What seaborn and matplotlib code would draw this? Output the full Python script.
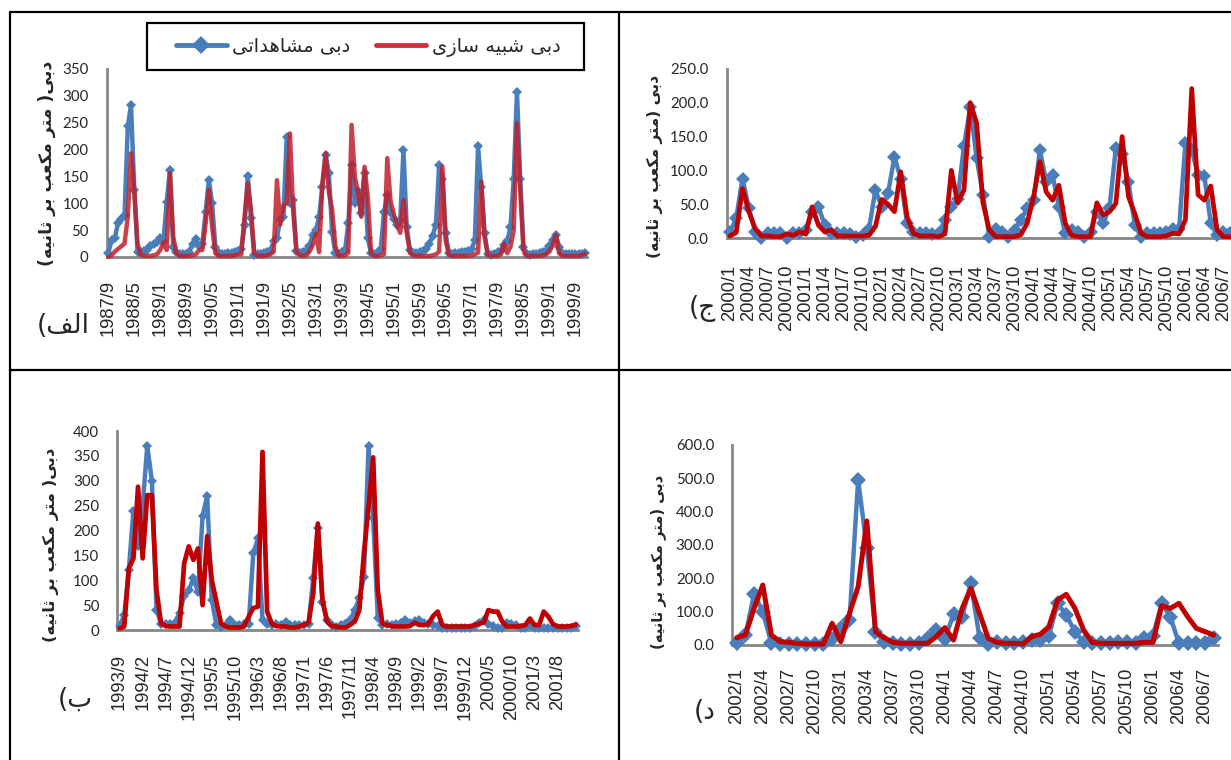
import numpy as np
import pandas as pd
import matplotlib
matplotlib.use("Agg")
import matplotlib.pyplot as plt
from matplotlib.lines import Line2D
from matplotlib.patches import Rectangle
from matplotlib.ticker import FixedLocator, FormatStrFormatter
import seaborn as sns

# ---- data ----
# panel الف : 1987/9 .. 1999/12
alef_start = "1987-09"
alef_obs = [7, 32, 35, 63, 70, 78, 243, 283, 125, 10, 10, 12, 13, 20, 25, 28, 35, 30, 103, 162,
            19, 10, 5, 5, 6, 10, 25, 33, 20, 25, 84, 143, 100, 19, 8, 6, 6, 8, 8, 10,
            12, 15, 60, 151, 72, 3, 5, 6, 8, 10, 12, 30, 36, 69, 75, 224, 100, 106, 12, 8,
            10, 12, 20, 41, 50, 75, 131, 190, 156, 47, 7, 5, 10, 13, 63, 171, 100, 122, 81, 156,
            35, 7, 5, 10, 15, 84, 115, 84, 70, 60, 69, 199, 56, 13, 8, 8, 10, 12, 15, 25,
            40, 60, 171, 145, 44, 7, 5, 8, 8, 10, 10, 12, 15, 31, 206, 130, 44, 5, 3, 6,
            10, 12, 22, 30, 56, 146, 308, 146, 19, 5, 3, 5, 6, 8, 10, 12, 20, 31, 41, 19,
            8, 6, 5, 5, 5, 6, 5, 7]
alef_sim = [0, 3, 10, 15, 20, 25, 75, 193, 125, 25, 4, 2, 2, 2, 3, 5, 13, 27, 13, 156,
            38, 7, 2, 2, 2, 2, 3, 5, 13, 13, 63, 125, 56, 7, 2, 2, 2, 2, 2, 3,
            5, 5, 75, 137, 87, 7, 2, 2, 2, 3, 5, 10, 143, 60, 96, 100, 230, 85, 10, 3,
            2, 3, 10, 22, 43, 9, 137, 193, 120, 88, 20, 2, 2, 3, 8, 246, 150, 120, 75, 168,
            112, 7, 2, 2, 3, 5, 184, 105, 80, 60, 45, 106, 45, 8, 3, 2, 2, 2, 2, 2,
            3, 5, 10, 168, 32, 4, 2, 2, 2, 2, 2, 2, 3, 5, 8, 140, 38, 4, 2, 2,
            2, 5, 25, 7, 19, 50, 249, 125, 13, 2, 2, 2, 2, 2, 3, 5, 10, 22, 41, 7,
            2, 2, 2, 2, 2, 2, 4, 6]

# panel ب : 1993/9 .. 2001/12
beh_start = "1993-09"
beh_obs = [8, 30, 121, 240, 168, 250, 370, 300, 40, 13, 12, 12, 15, 35, 68, 80, 104, 77, 230, 269,
           60, 10, 7, 10, 20, 10, 10, 13, 13, 154, 184, 20, 13, 10, 13, 10, 17, 10, 10, 10,
           10, 12, 104, 206, 57, 20, 10, 7, 10, 12, 20, 40, 64, 107, 370, 225, 25, 10, 12, 10,
           13, 15, 20, 15, 18, 20, 15, 12, 10, 8, 5, 5, 5, 5, 5, 5, 5, 8, 15, 20,
           12, 8, 5, 5, 15, 12, 10, 5, 5, 10, 5, 5, 5, 5, 5, 5, 5, 5, 5, 8]
beh_sim = [3, 7, 124, 144, 288, 144, 271, 271, 80, 13, 8, 7, 7, 7, 134, 168, 141, 164, 50, 189,
           100, 57, 13, 7, 5, 5, 5, 7, 27, 44, 47, 358, 37, 13, 8, 7, 7, 5, 5, 7,
           10, 15, 74, 214, 60, 17, 8, 7, 5, 5, 10, 17, 40, 154, 248, 347, 80, 13, 10, 8,
           7, 7, 7, 8, 15, 10, 10, 12, 28, 37, 10, 7, 7, 7, 7, 7, 7, 10, 13, 15,
           40, 37, 37, 17, 7, 7, 7, 8, 10, 23, 10, 10, 37, 27, 12, 7, 7, 7, 8, 11]

# panel ج : 2000/1 .. 2006/9 (cut at the right edge)
jeem_start = "2000-01"
jeem_obs = [9, 29, 88, 44, 9, 0, 8, 7, 7, 0, 7, 7, 12, 39, 46, 19, 7, 8, 8, 6,
            2, 4, 14, 71, 46, 66, 120, 88, 22, 9, 8, 7, 6, 7, 27, 46, 58, 136, 194, 118,
            64, 2, 14, 9, 2, 12, 27, 44, 56, 130, 83, 93, 46, 8, 12, 9, 2, 9, 39, 22,
            44, 133, 125, 83, 19, 2, 7, 7, 7, 9, 14, 14, 140, 130, 93, 91, 22, 4, 9, 7, 7]
jeem_sim = [3, 8, 73, 39, 14, 3, 3, 2, 2, 6, 4, 9, 6, 46, 19, 9, 12, 3, 3, 3,
            3, 3, 4, 17, 57, 50, 39, 98, 32, 7, 3, 3, 3, 2, 6, 100, 52, 71, 200, 170,
            52, 12, 2, 2, 2, 2, 5, 22, 61, 113, 68, 56, 78, 22, 4, 2, 2, 2, 52, 34,
            39, 51, 150, 61, 36, 7, 2, 2, 2, 3, 7, 6, 27, 221, 64, 56, 77, 12, 2, 2, 2]

# panel د : 2002/1 .. 2006/8
dal_start = "2002-01"
dal_obs = [5, 30, 152, 100, 5, 3, 3, 3, 3, 3, 3, 18, 50, 75, 495, 292, 40, 10, 5, 3,
           3, 5, 20, 45, 18, 92, 85, 185, 22, 2, 10, 5, 5, 10, 15, 15, 28, 125, 90, 40,
           8, 5, 5, 5, 10, 8, 5, 20, 28, 125, 85, 5, 5, 5, 5, 20]
dal_sim = [22, 30, 110, 180, 30, 10, 8, 5, 3, 3, 3, 65, 10, 95, 175, 372, 40, 22, 8, 5,
           5, 5, 5, 25, 52, 15, 110, 170, 95, 20, 8, 5, 5, 3, 25, 32, 55, 135, 152, 110,
           45, 8, 5, 5, 5, 5, 5, 8, 8, 118, 110, 125, 85, 50, 40, 30]

legend_obs = "دبی مشاهداتی"
legend_sim = "دبی شبیه سازی"
ylabel_a = "دبی( متر مکعب بر ثانیه)"
ylabel_b = "دبی (متر مکعب بر ثانیه)"

BLUE = "#4A7EBB"
RED = "#C00000"
GRAY = "#868686"
W, H = 1231, 760

# ---- minimal Persian shaping (matplotlib has no bidi / joining) ----
FORMS = {
    "\u0627": ("\uFE8D", "\uFE8E", None, None),
    "\u0628": ("\uFE8F", "\uFE90", "\uFE91", "\uFE92"),
    "\u062A": ("\uFE95", "\uFE96", "\uFE97", "\uFE98"),
    "\u062B": ("\uFE99", "\uFE9A", "\uFE9B", "\uFE9C"),
    "\u062C": ("\uFE9D", "\uFE9E", "\uFE9F", "\uFEA0"),
    "\u062F": ("\uFEA9", "\uFEAA", None, None),
    "\u0631": ("\uFEAD", "\uFEAE", None, None),
    "\u0632": ("\uFEAF", "\uFEB0", None, None),
    "\u0633": ("\uFEB1", "\uFEB2", "\uFEB3", "\uFEB4"),
    "\u0634": ("\uFEB5", "\uFEB6", "\uFEB7", "\uFEB8"),
    "\u0639": ("\uFEC9", "\uFECA", "\uFECB", "\uFECC"),
    "\u0641": ("\uFED1", "\uFED2", "\uFED3", "\uFED4"),
    "\u0644": ("\uFEDD", "\uFEDE", "\uFEDF", "\uFEE0"),
    "\u0645": ("\uFEE1", "\uFEE2", "\uFEE3", "\uFEE4"),
    "\u0646": ("\uFEE5", "\uFEE6", "\uFEE7", "\uFEE8"),
    "\u0647": ("\uFEE9", "\uFEEA", "\uFEEB", "\uFEEC"),
    "\u06A9": ("\uFB8E", "\uFB8F", "\uFB90", "\uFB91"),
    "\u06CC": ("\uFBFC", "\uFBFD", "\uFBFE", "\uFBFF"),
}
FORMS["\u0643"] = FORMS["\u06A9"]
FORMS["\u064A"] = FORMS["\u06CC"]


def fa(text):
    out = []
    for k, c in enumerate(text):
        if c not in FORMS:
            out.append(c)
            continue
        iso, fin, ini, med = FORMS[c]
        prev = text[k - 1] if k > 0 else ""
        nxt = text[k + 1] if k + 1 < len(text) else ""
        jp = prev in FORMS and FORMS[prev][2] is not None
        jn = nxt in FORMS and ini is not None
        out.append(med if (jp and jn) else fin if jp else ini if jn else iso)
    vis = "".join(reversed(out))
    return vis.translate(str.maketrans("()", ")("))


def months(start, n):
    return [f"{p.year}/{p.month}" for p in pd.period_range(start, periods=n, freq="M")]


def rect(l, r, top, bottom):
    return [l / W, 1 - bottom / H, (r - l) / W, (bottom - top) / H]


sns.set_style("white")
plt.rcParams["font.family"] = ["DejaVu Sans"]

fig = plt.figure(figsize=(W / 100, H / 100), dpi=100)


def panel(r, start, obs, sim, ymax, ystep, yfmt, every, minor, ms, lw_o, lw_s,
          sim_color=RED, sim_alpha=1.0, xpad=16):
    ax = fig.add_axes(r)
    n = len(obs)
    x = np.arange(n)
    sns.lineplot(x=x, y=obs, ax=ax, color=BLUE, lw=lw_o, marker="D", ms=ms,
                 mec=BLUE, mew=0, clip_on=False, zorder=3)
    sns.lineplot(x=x, y=sim, ax=ax, color=sim_color, lw=lw_s, alpha=sim_alpha,
                 clip_on=False, zorder=4)
    ax.set_xlim(-0.5, n - 0.5)
    ax.set_ylim(0, ymax)
    labels = months(start, n)
    ax.set_xticks(x[::every])
    ax.set_xticklabels(labels[::every], rotation=90, fontfamily="Liberation Sans",
                       fontsize=13.2)
    ax.xaxis.set_minor_locator(FixedLocator(np.arange(-0.5, n, minor)))
    ax.tick_params(axis="x", which="major", length=0, pad=xpad)
    ax.tick_params(axis="x", which="minor", length=5, width=1.2, color=GRAY, direction="out")
    ax.set_yticks(np.arange(0, ymax + 1, ystep))
    ax.yaxis.set_major_formatter(FormatStrFormatter(yfmt))
    ax.tick_params(axis="y", length=5, width=1.2, color=GRAY, direction="out", pad=8)
    for t in ax.get_yticklabels():
        t.set_fontfamily("Lato")
        t.set_fontsize(10.8)
    for s in ["top", "right"]:
        ax.spines[s].set_visible(False)
    for s in ["left", "bottom"]:
        ax.spines[s].set_color(GRAY)
        ax.spines[s].set_linewidth(2)
    ax.set_xlabel("")
    ax.set_ylabel("")
    ax.patch.set_alpha(0)
    return ax


# الف
panel(rect(106.7, 586.7, 69, 257), alef_start, alef_obs, alef_sim, 350, 50, "%d",
      8, 1, 5.5, 3.2, 3.2, sim_color="#C0202A", sim_alpha=0.85, xpad=16.5)
# ب
panel(rect(117.3, 578.3, 431, 630), beh_start, beh_obs, beh_sim, 400, 50, "%d",
      5, 1, 5.5, 3.2, 3.4, xpad=17)
# ج
panel(rect(726.7, 1239.2, 69, 238), jeem_start, jeem_obs, jeem_sim, 250, 50, "%.1f",
      3, 5, 7.5, 3.2, 3.4, xpad=19.5)
# د
panel(rect(732.4, 1218, 445, 645), dal_start, dal_obs, dal_sim, 600, 100, "%.1f",
      3, 5, 8, 3.2, 3.6, xpad=16.5)

# y-axis titles
for (px, py, txt, fs) in [(47, 163, ylabel_a, 12.5), (51, 545, ylabel_a, 11.8),
                          (655, 166, ylabel_b, 11.2), (658, 562, ylabel_b, 10.6)]:
    fig.text(px / W, 1 - py / H, fa(txt), rotation=90, ha="center", va="center",
             fontsize=fs, fontweight="bold")

# panel letters
for (px, py, txt) in [(63, 326, "الف)"), (702, 309, "ج)"), (75, 700, "ب)"), (705, 712, "د)")]:
    fig.text(px / W, 1 - py / H, fa(txt), ha="center", va="center", fontsize=19)

# legend of panel الف
fig.add_artist(Rectangle((147 / W, 1 - 70 / H), 437 / W, 47 / H, fill=False,
                         edgecolor="black", lw=1.6, transform=fig.transFigure))
handles = [Line2D([], [], color=BLUE, lw=3.5, marker="D", ms=9, mew=0),
           Line2D([], [], color="#D0303A", lw=3.5)]
fig.legend(handles, [fa(legend_obs), fa(legend_sim)], ncol=2, loc="center left",
           bbox_to_anchor=(176 / W, 1 - 47 / H), fontsize=14, frameon=False,
           handlelength=2.6, handletextpad=0.3, columnspacing=1.3, borderpad=0,
           borderaxespad=0)

# table grid
for (x0, y0, x1, y1) in [(10, 12, W, 12), (9.5, 12, 9.5, H), (619, 12, 619, H),
                         (10, 370, W, 370)]:
    fig.add_artist(Line2D([x0 / W, x1 / W], [1 - y0 / H, 1 - y1 / H], color="black",
                          lw=1.6, transform=fig.transFigure))

fig.savefig("out.png", dpi=100)
